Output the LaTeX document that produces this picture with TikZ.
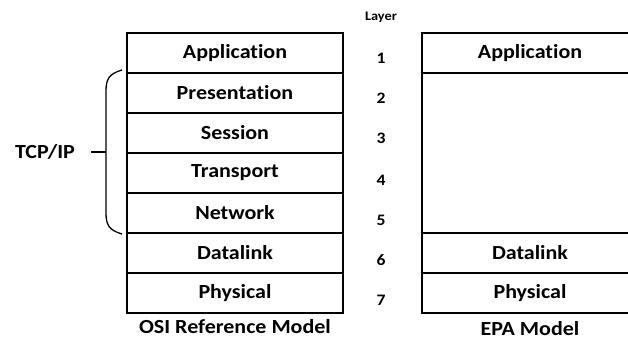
\documentclass[tikz,border=0pt]{standalone}
\usepackage{fontspec}
\setmainfont{Carlito}[Ligatures=NoCommon, FakeStretch=1.1]
\usepackage{tikz}
\usetikzlibrary{positioning}
\tikzset{
  layer/.style={draw=black, line width=1.6pt, minimum width=216pt, minimum height=40pt,
    inner sep=0pt, font=\fontsize{20}{22}\selectfont\bfseries},
  num/.style={font=\fontsize{16}{18}\selectfont\bfseries},
  lbl/.style={font=\fontsize{20}{22}\selectfont\bfseries, inner sep=1pt},
  brace/.style={draw=black, line width=1.3pt}
}

\begin{document}
\begin{tikzpicture}[x=1pt,y=-1pt]
  \clip (0,0) rectangle (628,340);

  % OSI stack
  \node[layer] (app)  at (235,53)  {Application};
  \node[layer] (pres) at (235,93)  {Presentation};
  \node[layer] (ses)  at (235,133) {Session};
  \node[layer] (tra)  at (235,173) {Transport};
  \node[layer] (net)  at (235,213) {Network};
  \node[layer] (dl)   at (235,253) {Datalink};
  \node[layer] (phy)  at (235,293) {Physical};
  \node[lbl] (osi) at (235,327) {OSI Reference Model};

  % EPA stack
  \node[layer] (eapp) at (530,53)  {Application};
  \node[layer, minimum height=160pt] (egap) at (530,153) {};
  \node[layer] (edl)  at (530,253) {Datalink};
  \node[layer] (ephy) at (530,293) {Physical};
  \node[lbl] (epa) at (530,329) {EPA Model};

  % layer numbers
  \node[num] (lay) at (381,17) {\fontsize{13}{15}\selectfont Layer};
  \node[num] (n1) at (381,58)  {1};
  \node[num] (n2) at (381,98)  {2};
  \node[num] (n3) at (381,138) {3};
  \node[num] (n4) at (381,180) {4};
  \node[num] (n5) at (381,220) {5};
  \node[num] (n6) at (381,260) {6};
  \node[num] (n7) at (381,300) {7};

  % TCP/IP brace
  \coordinate (btop) at (122,70);
  \coordinate (bbot) at (122,234);
  \coordinate (bmid) at (106,152);
  \draw[brace] (btop) .. controls (108,74) and (106,80) .. (106,92)
    -- (106,212) .. controls (106,224) and (108,230) .. (bbot);
  \node[lbl] (tcp) at (45,152) {TCP/IP};
  \draw[brace] (bmid) -- ++(-15,0);
\end{tikzpicture}
\end{document}
